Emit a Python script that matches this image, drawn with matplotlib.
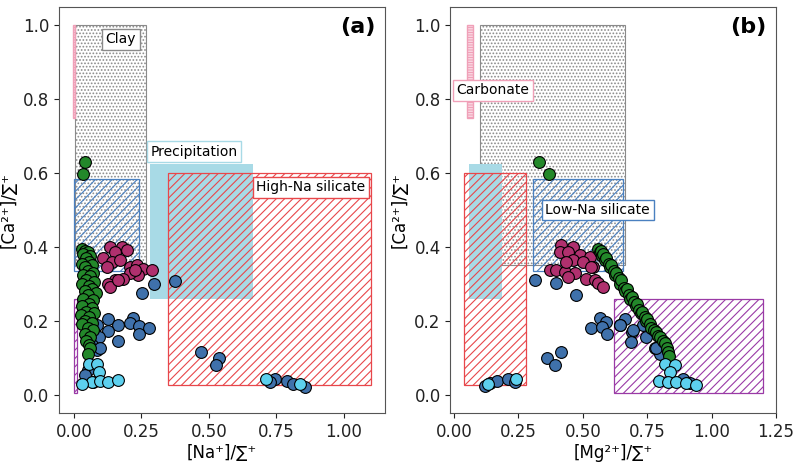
import matplotlib
matplotlib.use("Agg")
import matplotlib.pyplot as plt
from matplotlib.patches import Rectangle

plt.rcParams['hatch.linewidth'] = 0.8

# ---------------- data: panel (a)  Na/Σ vs Ca/Σ ----------------
green_na = [0.040, 0.035, 0.030, 0.040, 0.050, 0.035, 0.060, 0.045, 0.055, 0.030, 0.065, 0.040,
            0.050, 0.070, 0.035, 0.060, 0.045, 0.075, 0.030, 0.055, 0.065, 0.040, 0.080, 0.050,
            0.035, 0.070, 0.055, 0.030, 0.065, 0.045, 0.075, 0.025, 0.055, 0.040, 0.065, 0.030,
            0.050, 0.070, 0.040, 0.060, 0.045, 0.055, 0.060, 0.050]
green_ca_a = [0.630, 0.597, 0.395, 0.390, 0.385, 0.380, 0.375, 0.370, 0.360, 0.355, 0.350, 0.345,
              0.335, 0.330, 0.325, 0.320, 0.310, 0.305, 0.300, 0.295, 0.285, 0.280, 0.275, 0.270,
              0.260, 0.255, 0.245, 0.240, 0.235, 0.225, 0.220, 0.215, 0.210, 0.200, 0.195, 0.190,
              0.180, 0.175, 0.165, 0.155, 0.145, 0.135, 0.125, 0.110]

mag_na = [0.133, 0.177, 0.195, 0.152, 0.109, 0.140, 0.170, 0.121, 0.207, 0.232, 0.257, 0.288,
          0.238, 0.207, 0.183, 0.152, 0.127, 0.133, 0.164, 0.226]
mag_ca_a = [0.400, 0.400, 0.391, 0.387, 0.369, 0.360, 0.364, 0.346, 0.346, 0.350, 0.341, 0.337,
            0.323, 0.328, 0.314, 0.310, 0.300, 0.292, 0.310, 0.337]

blue_na = [0.296, 0.376, 0.251, 0.127, 0.164, 0.127, 0.164, 0.084, 0.078, 0.094, 0.217, 0.207,
           0.241, 0.279, 0.241, 0.065, 0.084, 0.096, 0.053, 0.072, 0.041, 0.469, 0.538, 0.525,
           0.744, 0.728, 0.791, 0.812, 0.856]
blue_ca_a = [0.300, 0.308, 0.274, 0.204, 0.188, 0.172, 0.145, 0.188, 0.165, 0.156, 0.208, 0.195,
             0.186, 0.181, 0.163, 0.134, 0.120, 0.127, 0.066, 0.034, 0.052, 0.116, 0.098, 0.079,
             0.041, 0.033, 0.037, 0.028, 0.021]

cyan_na = [0.057, 0.086, 0.094, 0.065, 0.096, 0.125, 0.162, 0.028, 0.711, 0.837]
cyan_ca_a = [0.084, 0.084, 0.060, 0.034, 0.036, 0.034, 0.039, 0.028, 0.043, 0.028]

# ---------------- data: panel (b)  Mg/Σ vs Ca/Σ ----------------
green_mg = [0.330, 0.370, 0.560, 0.565, 0.570, 0.575, 0.580, 0.585, 0.590, 0.600, 0.605, 0.610,
            0.620, 0.625, 0.630, 0.640, 0.645, 0.650, 0.660, 0.665, 0.670, 0.680, 0.685, 0.690,
            0.700, 0.705, 0.710, 0.720, 0.725, 0.730, 0.740, 0.745, 0.750, 0.760, 0.765, 0.775,
            0.785, 0.790, 0.800, 0.810, 0.820, 0.825, 0.830, 0.835]
green_ca_b = [0.630, 0.597, 0.395, 0.385, 0.390, 0.375, 0.380, 0.365, 0.370, 0.355, 0.345, 0.350,
              0.335, 0.325, 0.330, 0.315, 0.300, 0.310, 0.290, 0.280, 0.285, 0.270, 0.260, 0.265,
              0.250, 0.240, 0.245, 0.230, 0.220, 0.225, 0.210, 0.200, 0.205, 0.190, 0.180, 0.175,
              0.170, 0.160, 0.155, 0.145, 0.140, 0.125, 0.115, 0.105]

mag_mg = [0.417, 0.462, 0.410, 0.443, 0.488, 0.527, 0.462, 0.501, 0.539, 0.371, 0.397, 0.430,
          0.468, 0.443, 0.514, 0.546, 0.559, 0.578, 0.436, 0.533]
mag_ca_b = [0.405, 0.400, 0.387, 0.387, 0.378, 0.373, 0.364, 0.360, 0.346, 0.337, 0.337, 0.332,
            0.328, 0.319, 0.312, 0.310, 0.301, 0.292, 0.360, 0.346]

blue_mg = [0.313, 0.397, 0.472, 0.568, 0.591, 0.533, 0.576, 0.594, 0.662, 0.646, 0.692, 0.688,
           0.733, 0.747, 0.779, 0.801, 0.414, 0.361, 0.393, 0.119, 0.139, 0.165, 0.210, 0.236,
           0.889, 0.915, 0.695, 0.785, 0.643]
blue_ca_b = [0.310, 0.301, 0.271, 0.208, 0.197, 0.181, 0.183, 0.163, 0.206, 0.188, 0.170, 0.143,
             0.188, 0.156, 0.125, 0.111, 0.116, 0.098, 0.079, 0.024, 0.030, 0.037, 0.043, 0.034,
             0.043, 0.030, 0.174, 0.125, 0.188]

cyan_mg = [0.132, 0.242, 0.821, 0.856, 0.837, 0.796, 0.830, 0.863, 0.899, 0.938]
cyan_ca_b = [0.028, 0.041, 0.084, 0.079, 0.060, 0.037, 0.034, 0.034, 0.032, 0.027]

# end-member fields: (x0, x1, y0, y1)
clay_a, clay_b = (0.005, 0.265, 0.35, 1.0), (0.10, 0.665, 0.35, 1.0)
carb_a, carb_b = (-0.005, 0.005, 0.75, 1.0), (0.05, 0.075, 0.75, 1.0)
lowna_a, lowna_b = (0.0, 0.24, 0.335, 0.585), (0.305, 0.655, 0.335, 0.585)
precip_a, precip_b = (0.28, 0.665, 0.26, 0.625), (0.06, 0.185, 0.26, 0.625)
highna_a, highna_b = (0.35, 1.10, 0.025, 0.60), (0.04, 0.28, 0.025, 0.60)
evap_a, evap_b = (0.0, 0.01, 0.005, 0.26), (0.62, 1.20, 0.005, 0.26)

C_GREEN = '#23882a'
C_MAG = '#b0306e'
C_BLUE = '#3f71ab'
C_CYAN = '#5dd0ee'
C_CLAY = '#8a8a8a'
C_CARB = '#f0a0b8'
C_LOWNA = '#4a80c0'
C_PREC = '#a8dae6'
C_HIGHNA = '#e8474b'
C_EVAP = '#9a3aa6'

fig = plt.figure(figsize=(8, 4.62), dpi=100)
ax_a = fig.add_axes([0.074, 0.106, 0.407, 0.879])
ax_b = fig.add_axes([0.563, 0.106, 0.407, 0.879])


def rect(ax, r, **kw):
    x0, x1, y0, y1 = r
    ax.add_patch(Rectangle((x0, y0), x1 - x0, y1 - y0, **kw))


def fields(ax, clay, carb, lowna, precip, highna, evap):
    rect(ax, clay, facecolor='none', edgecolor=C_CLAY, hatch='.....', lw=0.8, zorder=1)
    rect(ax, carb, facecolor='none', edgecolor=C_CARB, hatch='----------', lw=1.0, zorder=1)
    rect(ax, precip, facecolor=C_PREC, edgecolor='none', lw=0, zorder=1)
    rect(ax, lowna, facecolor='none', edgecolor=C_LOWNA, hatch='////', lw=0.9, zorder=2)
    rect(ax, highna, facecolor='none', edgecolor=C_HIGHNA, hatch='////', lw=0.9, zorder=2)
    rect(ax, evap, facecolor='none', edgecolor=C_EVAP, hatch='////', lw=0.9, zorder=2)


def label(ax, x, y, s, ec):
    ax.text(x, y, s, fontsize=10, ha='center', va='center', zorder=5,
            bbox=dict(boxstyle='square,pad=0.25', facecolor='white', edgecolor=ec, lw=1))


fields(ax_a, clay_a, carb_a, lowna_a, precip_a, highna_a, evap_a)
fields(ax_b, clay_b, carb_b, lowna_b, precip_b, highna_b, evap_b)

sk = dict(s=72, edgecolors='black', linewidths=0.8, zorder=4)
ax_a.scatter(blue_na, blue_ca_a, c=C_BLUE, **sk)
ax_a.scatter(mag_na, mag_ca_a, c=C_MAG, **sk)
ax_a.scatter(green_na, green_ca_a, c=C_GREEN, **sk)
ax_a.scatter(cyan_na, cyan_ca_a, c=C_CYAN, **sk)

ax_b.scatter(blue_mg, blue_ca_b, c=C_BLUE, **sk)
ax_b.scatter(mag_mg, mag_ca_b, c=C_MAG, **sk)
ax_b.scatter(green_mg, green_ca_b, c=C_GREEN, **sk)
ax_b.scatter(cyan_mg, cyan_ca_b, c=C_CYAN, **sk)

label(ax_a, 0.174, 0.963, 'Clay', C_CLAY)
label(ax_a, 0.444, 0.658, 'Precipitation', C_PREC)
label(ax_a, 0.878, 0.561, 'High-Na silicate', C_HIGHNA)
label(ax_b, 0.150, 0.824, 'Carbonate', C_CARB)
label(ax_b, 0.558, 0.500, 'Low-Na silicate', C_LOWNA)

ax_a.set_xlim(-0.055, 1.152)
ax_b.set_xlim(-0.014, 1.25)
for ax, lab, xl in ((ax_a, '(a)', '[Na⁺]/∑⁺'), (ax_b, '(b)', '[Mg²⁺]/∑⁺')):
    ax.set_ylim(-0.05, 1.05)
    ax.set_yticks([0.0, 0.2, 0.4, 0.6, 0.8, 1.0])
    ax.tick_params(labelsize=12, colors='#222222')
    ax.set_xlabel(xl, fontsize=12, labelpad=2)
    ax.set_ylabel('[Ca²⁺]/∑⁺', fontsize=12, labelpad=4)
    for sp in ax.spines.values():
        sp.set_color('#555555')
    ax.text(0.97, 0.975, lab, transform=ax.transAxes, ha='right', va='top',
            fontsize=16, fontweight='bold')
ax_a.set_xticks([0.0, 0.25, 0.5, 0.75, 1.0])
ax_b.set_xticks([0.0, 0.25, 0.5, 0.75, 1.0, 1.25])

fig.savefig('out.png', dpi=100)
